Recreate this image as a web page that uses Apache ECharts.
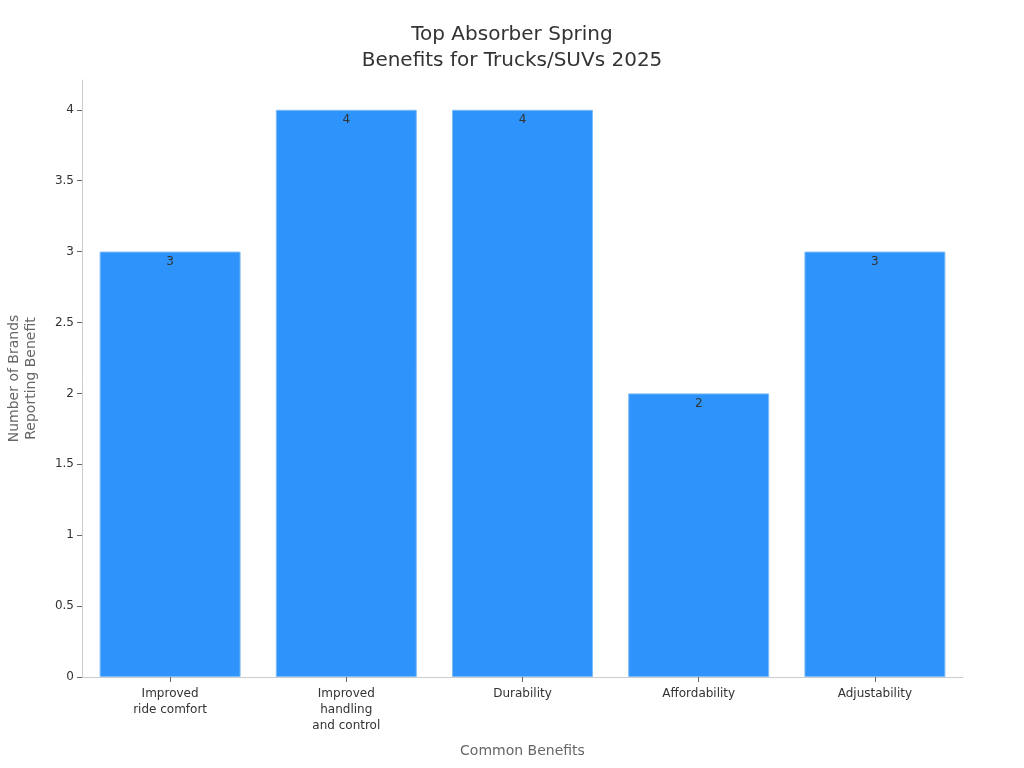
<!DOCTYPE html>
<html>
<head>
<meta charset="utf-8">
<script src="https://cdn.jsdelivr.net/npm/echarts@6/dist/echarts.min.js"></script>
<style>
  html, body { margin: 0; padding: 0; background: #fff; }
  #chart { width: 1024px; height: 768px; }
</style>
</head>
<body>
<div id="chart"></div>
<script>
// chart data
const categories = [
  'Improved\nride comfort',
  'Improved\nhandling\nand control',
  'Durability',
  'Affordability',
  'Adjustability'
];
const brandCounts = [3, 4, 4, 2, 3];
const yTicks = [0, 0.5, 1, 1.5, 2, 2.5, 3, 3.5, 4];

const chart = echarts.init(document.getElementById('chart'));

const option = {
  backgroundColor: '#fff',
  textStyle: { fontFamily: 'DejaVu Sans' },
  title: {
    text: 'Top Absorber Spring\nBenefits for Trucks/SUVs 2025',
    left: 'center',
    top: 17,
    textStyle: { fontSize: 20, fontWeight: 'normal', color: '#333', lineHeight: 26 }
  },
  grid: { left: 82, right: 61, top: 80, bottom: 91, containLabel: false, outerBoundsMode: 'none' },
  xAxis: {
    type: 'category',
    data: categories,
    name: 'Common Benefits',
    nameLocation: 'middle',
    nameGap: 67,
    nameTextStyle: { fontSize: 14, color: '#666' },
    axisLine: { lineStyle: { color: '#ccc' } },
    axisTick: { show: true, alignWithLabel: true, length: 5, lineStyle: { color: '#666' } },
    axisLabel: { fontSize: 12, color: '#333', margin: 9, lineHeight: 16, interval: 0 }
  },
  yAxis: {
    type: 'value',
    min: 0,
    max: 4.21,
    name: 'Number of Brands\nReporting Benefit',
    nameLocation: 'middle',
    nameGap: 42,
    nameRotate: 90,
    nameTextStyle: { fontSize: 14, color: '#666', lineHeight: 17 },
    splitLine: { show: false },
    axisLine: { show: true, lineStyle: { color: '#ccc' } },
    axisTick: { show: true, length: 5, customValues: yTicks, lineStyle: { color: '#666' } },
    axisLabel: { fontSize: 12, color: '#333', margin: 8, customValues: yTicks }
  },
  series: [{
    type: 'bar',
    data: brandCounts,
    barCategoryGap: '20%',
    itemStyle: { color: '#2E93FA', borderColor: '#7dbcf7', borderWidth: 1 },
    label: {
      show: true,
      position: 'insideTop',
      distance: 4,
      fontSize: 12,
      color: '#333'
    }
  }]
};

chart.setOption(option);
</script>
</body>
</html>
